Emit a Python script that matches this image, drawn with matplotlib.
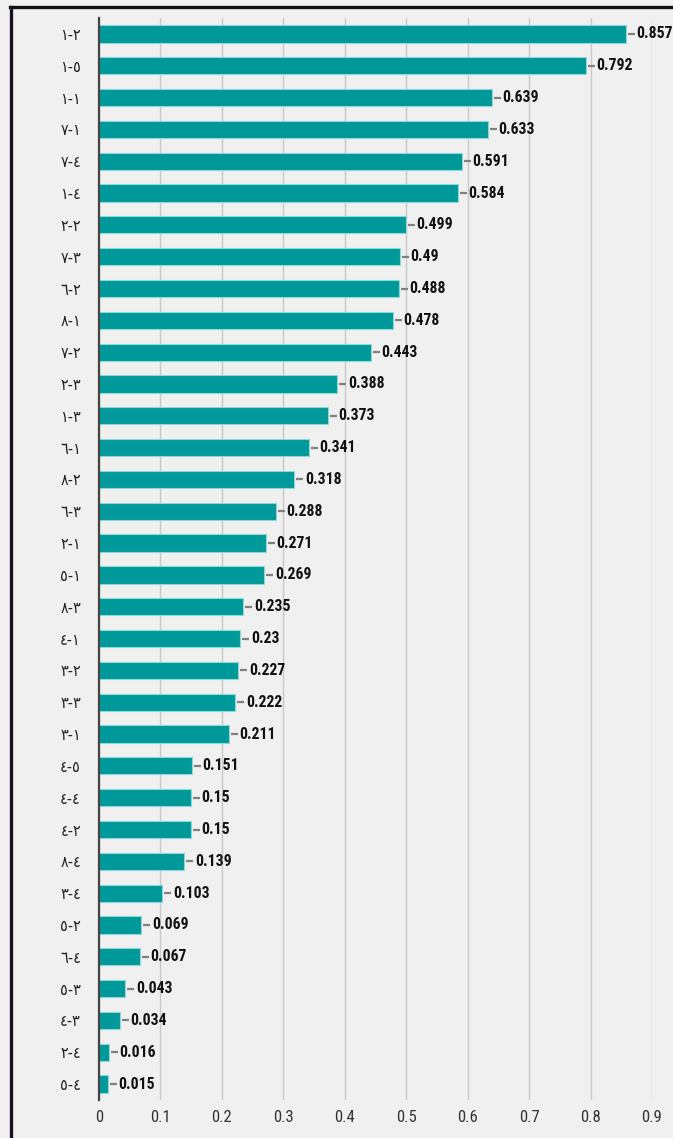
import matplotlib
matplotlib.use("Agg")
import matplotlib.pyplot as plt
from matplotlib.lines import Line2D
from matplotlib import font_manager as fm
import numpy as np
import logging
logging.getLogger("matplotlib.font_manager").setLevel(logging.ERROR)

labels = ["١-٢", "١-٥", "١-١", "٧-١", "٧-٤", "١-٤", "٢-٢", "٧-٣", "٦-٢", "٨-١",
          "٧-٢", "٢-٣", "١-٣", "٦-١", "٨-٢", "٦-٣", "٢-١", "٥-١", "٨-٣", "٤-١",
          "٣-٢", "٣-٣", "٣-١", "٤-٥", "٤-٤", "٤-٢", "٨-٤", "٣-٤", "٥-٢", "٦-٤",
          "٥-٣", "٤-٣", "٢-٤", "٥-٤"]
values = [0.857, 0.792, 0.639, 0.633, 0.591, 0.584, 0.499, 0.49, 0.488, 0.478,
          0.443, 0.388, 0.373, 0.341, 0.318, 0.288, 0.271, 0.269, 0.235, 0.23,
          0.227, 0.222, 0.211, 0.151, 0.15, 0.15, 0.139, 0.103, 0.069, 0.067,
          0.043, 0.034, 0.016, 0.015]
value_texts = ["0.857", "0.792", "0.639", "0.633", "0.591", "0.584", "0.499", "0.49", "0.488", "0.478",
               "0.443", "0.388", "0.373", "0.341", "0.318", "0.288", "0.271", "0.269", "0.235", "0.23",
               "0.227", "0.222", "0.211", "0.151", "0.15", "0.15", "0.139", "0.103", "0.069", "0.067",
               "0.043", "0.034", "0.016", "0.015"]
xticks = [0, 0.1, 0.2, 0.3, 0.4, 0.5, 0.6, 0.7, 0.8, 0.9]
xtick_labels = ["0", "0.1", "0.2", "0.3", "0.4", "0.5", "0.6", "0.7", "0.8", "0.9"]

names = {f.name for f in fm.fontManager.ttflist}
cands = ["Roboto Condensed", "Open Sans Condensed", "Liberation Sans Narrow",
         "DejaVu Sans Condensed", "Liberation Sans"]
first = next((c for c in cands if c in names), "DejaVu Sans")
fam = [first, "DejaVu Sans"]
stretch = "condensed"

W, H = 673, 1138
fig = plt.figure(figsize=(W / 100, H / 100), dpi=100)
fig.patch.set_facecolor("#f0f0f0")

left, right = 99 / W, 652 / W
top, bottom = 1 - 18 / H, 1 - 1100 / H
ax = fig.add_axes([left, bottom, right - left, top - bottom])
ax.set_facecolor("#f0f0f0")

n = len(values)
y = np.arange(n)
ax.barh(y, values, height=0.54, color="#009999", edgecolor="#8fd6d6", linewidth=0.8, zorder=3)
ax.set_ylim(n - 0.5, -0.5)
ax.set_xlim(0, 0.9)

ax.set_xticks(xticks)
ax.set_xticklabels(xtick_labels, family=fam, fontsize=12, color="#333333", stretch=stretch)
ax.set_yticks(y)
ax.set_yticklabels(labels, family=["DejaVu Sans"], fontsize=11.5, color="#222222", stretch=stretch)
ax.tick_params(axis="both", length=0)
ax.tick_params(axis="x", pad=7)
ax.tick_params(axis="y", pad=13)
ax.grid(axis="x", color="#c8c8c8", linewidth=1.0, zorder=0)
for s in ["top", "right", "bottom"]:
    ax.spines[s].set_visible(False)
ax.spines["left"].set_color("#444444")
ax.spines["left"].set_linewidth(1.6)
ax.spines["left"].set_zorder(4)

px = 0.9 / (652 - 99)
for yi, v, t in zip(y, values, value_texts):
    ax.plot([v + 2 * px, v + 9 * px], [yi, yi], color="#808080", lw=1.6, zorder=3, solid_capstyle="butt")
    ax.text(v + 10.5 * px, yi, t, va="center", ha="left", family=fam, fontsize=11.3,
            fontweight="bold", color="#111111", zorder=5, stretch=stretch)

# figure border (top and left)
fig.add_artist(Line2D([10 / W, 1], [1 - 7 / H, 1 - 7 / H], color="#111111", lw=2.4, transform=fig.transFigure))
fig.add_artist(Line2D([11 / W, 11 / W], [0, 1 - 7 / H], color="#1a1025", lw=2.4, transform=fig.transFigure))

fig.savefig("out.png", dpi=100, facecolor=fig.get_facecolor())
